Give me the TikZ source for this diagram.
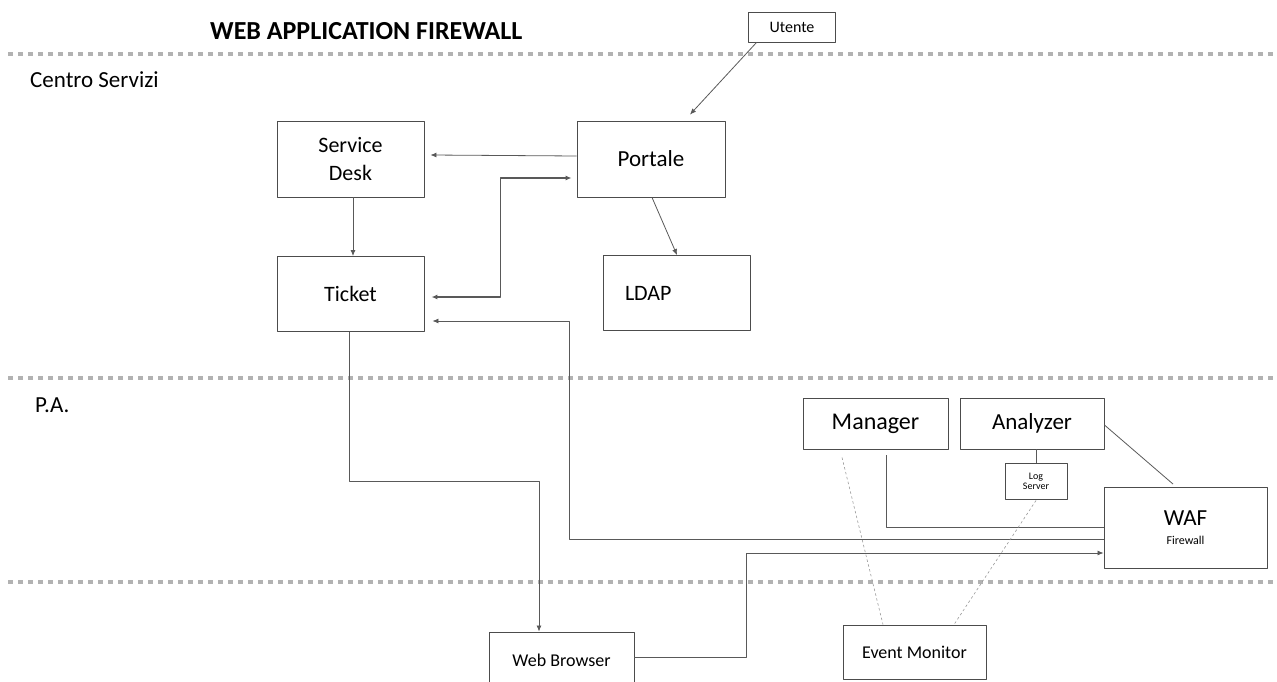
\documentclass[tikz,border=0pt]{standalone}
\usepackage{fontspec}
\setmainfont{Carlito}
\usetikzlibrary{positioning,arrows.meta}

\tikzset{
  box/.style={draw=black!70, line width=0.9pt, fill=white, align=center, inner sep=2pt},
  conn/.style={draw=black!65, line width=0.8pt},
  arr/.style={conn, -{Latex[length=6pt,width=5pt]}},
  monitor/.style={draw=black!40, line width=0.6pt, dash pattern=on 2.5pt off 2.5pt},
  zone/.style={draw=black!30, line width=3.5pt, dash pattern=on 4.5pt off 5.5pt},
}
\newcommand{\fs}[1]{\fontsize{#1}{#1}\selectfont}

\begin{document}
\begin{tikzpicture}[x=1pt,y=-1pt, line join=round]
\useasboundingbox (0,0) rectangle (1277,682);

% zone separators
\foreach \y in {54,378,582} {
  \draw[zone] (8,\y) -- (1277,\y);
}

% titles
\node[anchor=west, font=\fs{26}\bfseries, inner sep=0] (title) at (210,31) {WEB APPLICATION FIREWALL};
\node[anchor=west, font=\fs{23}, inner sep=0] (centro) at (30,80) {Centro Servizi};
\node[anchor=west, font=\fs{23}, inner sep=0] (pa) at (35,405) {P.A.};

% centro servizi
\node[box, minimum width=87pt, minimum height=30pt, font=\fs{16}] (utente) at (792,27) {Utente};
\node[box, minimum width=148pt, minimum height=76pt, font=\fs{23}] (portale) at (651,159) {Portale};
\node[box, minimum width=147pt, minimum height=76pt, font=\fs{22}] (desk) at (350.5,159) {Service\\[6pt]Desk};
\node[box, minimum width=147pt, minimum height=75pt, font=\fs{22}] (ticket) at (350.5,294) {Ticket};
\node[box, minimum width=147pt, minimum height=75pt, font=\fs{22},
      text width=103pt, align=left, inner xsep=0pt] (ldap) at (676.5,293) {LDAP};

% p.a.
\node[box, minimum width=145pt, minimum height=51pt, font=\fs{24}] (manager) at (875.5,423.5) {Manager};
\node[box, minimum width=144pt, minimum height=51pt, font=\fs{23}] (analyzer) at (1032,423.5) {Analyzer};
\node[box, minimum width=62pt, minimum height=36pt, font=\fs{10}] (logsrv) at (1036,481) {Log\\Server};
\node[box, minimum width=163pt, minimum height=81pt] (waf) at (1185.5,528) {{\fs{23}WAF}\\[7pt]{\fs{12}Firewall}};

% utenti finali
\node[box, minimum width=145pt, minimum height=56pt, font=\fs{18}] (browser) at (561.5,660) {Web Browser};
\node[box, minimum width=143pt, minimum height=54pt, font=\fs{18}] (evmon) at (914.5,652) {Event Monitor};

% flows
\draw[arr] ([xshift=8.5pt]utente.south west) -- ([xshift=39pt,yshift=6pt]portale.north);
\draw[arr] ([yshift=3pt]portale.west) -- ([xshift=6pt,yshift=4pt]desk.east);
\draw[arr] ([xshift=2.5pt]desk.south) -- ([xshift=2.5pt]ticket.north);
\draw[conn, line width=1.3pt, {Latex[length=6pt,width=5pt]}-{Latex[length=6pt,width=5pt]}]
  ([xshift=7pt,yshift=-3pt]ticket.east) -| ([xshift=-76pt,yshift=-19pt]portale.west)
  -- ([xshift=-5pt,yshift=-19pt]portale.west);
\draw[arr] ([xshift=1pt]portale.south) -- ([xshift=0.5pt]ldap.north);

\draw[arr] ([xshift=-1.5pt]ticket.south) -- ++(0,149) -| ([xshift=-22.5pt]browser.north);
\draw[arr] ([yshift=3pt]browser.east) -- ++(112,0) |- ([yshift=-25pt]waf.west);
\draw[arr] ([yshift=-11pt]waf.west) -| ([xshift=145pt,yshift=-27pt]ticket.east)
  -- ([xshift=8pt,yshift=-27pt]ticket.east);

% WAF links
\draw[conn] ([xshift=10.5pt,yshift=-6pt]manager.south) |- ([yshift=1pt]waf.west);
\draw[conn] ([yshift=-1.5pt]analyzer.east) -- ([xshift=-12.5pt,yshift=3pt]waf.north);
\draw[conn] (analyzer.south -| logsrv.north) -- (logsrv.north);

% monitoring
\draw[monitor] ([xshift=-33.5pt,yshift=-8pt]manager.south) -- ([xshift=-31.5pt]evmon.north);
\draw[monitor] ([yshift=-1pt]logsrv.south) -- ([xshift=39.5pt]evmon.north);
\end{tikzpicture}
\end{document}
